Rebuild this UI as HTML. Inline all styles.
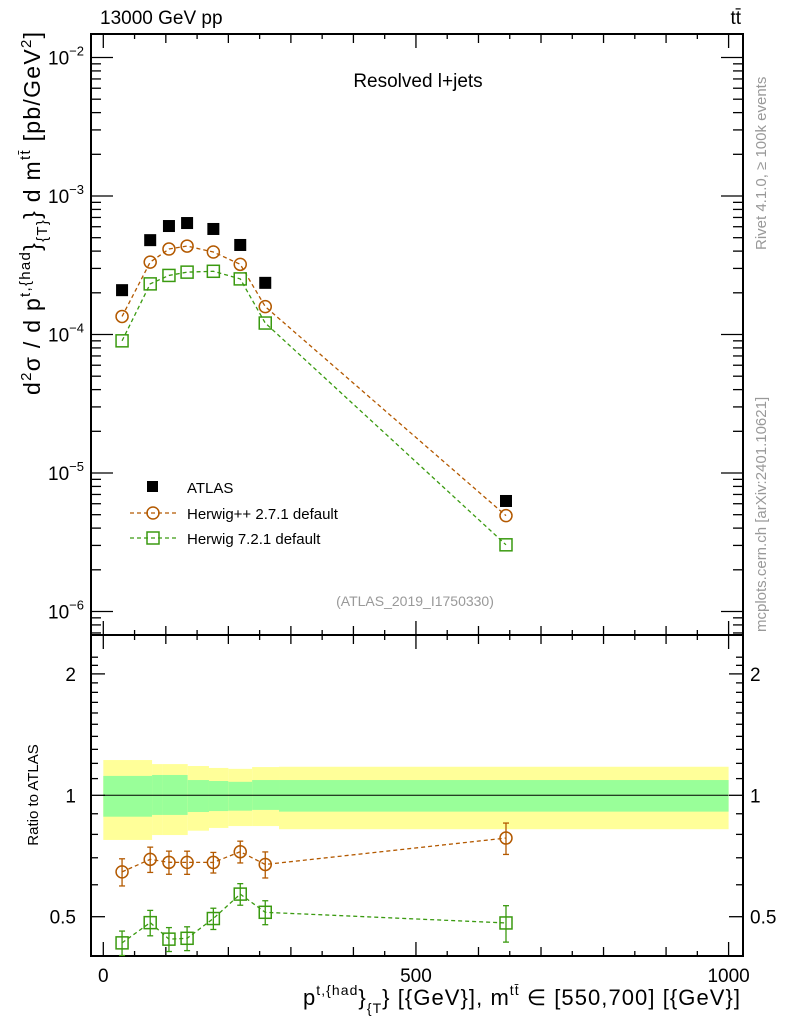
<!DOCTYPE html>
<html><head><meta charset="utf-8"><style>
html,body{margin:0;padding:0;background:#fff;}
svg{display:block;font-family:"Liberation Sans",sans-serif;}
</style></head><body>
<svg id="chart" width="786" height="1024" viewBox="0 0 786 1024">
<g id="bands"></g>
<g id="axes"></g>
<g id="series"></g>
<text x="100" y="24" font-size="19">13000 GeV pp</text>
<text x="741" y="24" font-size="19" text-anchor="end">tt̄</text>
<text x="418" y="87" font-size="19" text-anchor="middle">Resolved l+jets</text>
<text x="415" y="606" font-size="14" fill="#999" text-anchor="middle">(ATLAS_2019_I1750330)</text>
<text transform="translate(766,250) rotate(-90)" font-size="15" fill="#999">Rivet 4.1.0, ≥ 100k events</text>
<text transform="translate(766,632) rotate(-90)" font-size="15" fill="#999">mcplots.cern.ch [arXiv:2401.10621]</text>
<text transform="translate(40,395) rotate(-90)" font-size="23" textLength="363" lengthAdjust="spacing">d<tspan font-size="15" dy="-9">2</tspan><tspan dy="9">σ / d p</tspan><tspan font-size="15" dy="-10">t,{had</tspan><tspan dy="10">}</tspan><tspan font-size="15" dy="7">{T}</tspan><tspan dy="-7">} d m</tspan><tspan font-size="15" dy="-10">tt̄</tspan><tspan dy="10"> [pb/GeV</tspan><tspan font-size="15" dy="-9">2</tspan><tspan dy="9">]</tspan></text>
<text transform="translate(38,795) rotate(-90)" font-size="15" text-anchor="middle">Ratio to ATLAS</text>
<text x="303" y="1005" font-size="22" textLength="437" lengthAdjust="spacing">p<tspan font-size="14" dy="-10">t,{had</tspan><tspan dy="10">}</tspan><tspan font-size="14" dy="8">{T</tspan><tspan dy="-8">} [{GeV}], m</tspan><tspan font-size="14" dy="-10">tt̄</tspan><tspan dy="10"> ∈ [550,700] [{GeV}]</tspan></text>
<g id="legend">
<rect x="147" y="481" width="11" height="11" fill="#000"/>
<text x="187" y="493" font-size="15">ATLAS</text>
<line x1="130" y1="513" x2="176" y2="513" stroke="#b35900" stroke-width="1.3" stroke-dasharray="4,3"/>
<circle cx="153" cy="513" r="6" fill="none" stroke="#b35900" stroke-width="1.5"/>
<text x="187" y="519" font-size="15">Herwig++ 2.7.1 default</text>
<line x1="130" y1="538" x2="176" y2="538" stroke="#3a9a10" stroke-width="1.3" stroke-dasharray="4,3"/>
<rect x="147" y="532" width="12" height="12" fill="none" stroke="#3a9a10" stroke-width="1.5"/>
<text x="187" y="544" font-size="15">Herwig 7.2.1 default</text>
</g>
</svg>
<script>
const xCenters=[30,75,105,134,176,219,259,644];
const binEdges=[0,78,94,135,169,200,238,281,1000];
const atlas=[2.09e-4,4.8e-4,6.07e-4,6.38e-4,5.78e-4,4.43e-4,2.36e-4,6.28e-6];
const herwigpp=[1.35e-4,3.33e-4,4.14e-4,4.35e-4,3.94e-4,3.21e-4,1.59e-4,4.92e-6];
const herwig7=[9.0e-5,2.32e-4,2.67e-4,2.82e-4,2.86e-4,2.52e-4,1.21e-4,3.03e-6];
const yellowUp=[1.223,1.195,1.195,1.182,1.169,1.163,1.175,1.177];
const yellowDn=[0.775,0.797,0.797,0.817,0.830,0.839,0.839,0.824];
const greenUp=[1.117,1.123,1.123,1.091,1.085,1.080,1.091,1.091];
const greenDn=[0.885,0.894,0.894,0.909,0.914,0.916,0.920,0.911];
const ratioErrPP=[0.05,0.05,0.045,0.045,0.04,0.045,0.05,0.07];
const ratioErr7=[0.03,0.035,0.03,0.03,0.03,0.035,0.035,0.05];
const xTickLabels=[0,500,1000];
const mainTickExps=[-2,-3,-4,-5,-6];
const ratioTickLabels=[0.5,1,2];

const NS="http://www.w3.org/2000/svg";
const L=91,R=743,T=34,MB=635,RB=956;
const X=v=>103.3+v*0.6253;
const Y=v=>57.5-(Math.log10(v)+2)*138.5;
const YR=v=>795.3-Math.log10(v)*403.3;
function mk(tag,attrs,parent){const e=document.createElementNS(NS,tag);for(const k in attrs)e.setAttribute(k,attrs[k]);parent.appendChild(e);return e;}
const axes=document.getElementById('axes'),bands=document.getElementById('bands'),series=document.getElementById('series');

for(let i=0;i<yellowUp.length;i++){
  const x1=X(binEdges[i]),x2=X(binEdges[i+1]);
  const y=mk('rect',{x:x1,y:YR(yellowUp[i]),width:x2-x1,height:YR(yellowDn[i])-YR(yellowUp[i]),fill:'#ffff99'},bands);
  
  
  const g=mk('rect',{x:x1,y:YR(greenUp[i]),width:x2-x1,height:YR(greenDn[i])-YR(greenUp[i]),fill:'#99ff99'},bands);
  
  
}
const one=mk('line',{x1:X(0),x2:X(1000),y1:YR(1),y2:YR(1),stroke:'#000','stroke-width':1},bands);



mk('rect',{x:L,y:T,width:R-L,height:MB-T,fill:'none',stroke:'#000','stroke-width':2},axes);
mk('rect',{x:L,y:MB,width:R-L,height:RB-MB,fill:'none',stroke:'#000','stroke-width':2},axes);
for(let v=0;v<=1000;v+=50){
  const len=v%500===0?14:(v%100===0?9:5);
  for(const [yb,dir] of [[MB,-1],[T,1],[RB,-1],[MB,1]]){
    mk('line',{x1:X(v),x2:X(v),y1:yb,y2:yb+dir*len,stroke:'#000','stroke-width':1.3},axes);
  }
}
xTickLabels.forEach(v=>{const t=mk('text',{x:X(v),y:RB+26,'font-size':19,'text-anchor':'middle'},axes);t.textContent=v;
 
 });
for(let e=-7;e<=-2;e++){
  for(let m=1;m<10;m++){
    const y=Y(m*Math.pow(10,e));if(y<T||y>MB)continue;
    const len=m===1?22:10;
    mk('line',{x1:L,x2:L+len,y1:y,y2:y,stroke:'#000','stroke-width':1.3},axes);
    mk('line',{x1:R,x2:R-len,y1:y,y2:y,stroke:'#000','stroke-width':1.3},axes);
  }
}
mainTickExps.forEach(e=>{const t=mk('text',{x:84,y:Y(Math.pow(10,e))+7,'font-size':19,'text-anchor':'end'},axes);
 t.innerHTML='10<tspan font-size="13" dy="-9">'+(e<0?'−'+(-e):e)+'</tspan>';
 
 });
for(let v=0.4;v<=2.3;v+=0.1){
  const y=YR(v);if(y<MB||y>RB)continue;
  const major=Math.abs(v-0.5)<1e-6||Math.abs(v-1)<1e-6||Math.abs(v-2)<1e-6;
  const len=major?14:7;
  mk('line',{x1:L,x2:L+len,y1:y,y2:y,stroke:'#000','stroke-width':1.3},axes);
  mk('line',{x1:R,x2:R-len,y1:y,y2:y,stroke:'#000','stroke-width':1.3},axes);
}
ratioTickLabels.forEach(v=>{
  const a=mk('text',{x:76,y:YR(v)+7,'font-size':19,'text-anchor':'end'},axes);a.textContent=v;
  
  
  const b=mk('text',{x:750,y:YR(v)+7,'font-size':19},axes);b.textContent=v;
  
  
});

function line(vals,fy,color){
  const p=vals.map((v,i)=>X(xCenters[i])+','+fy(v,i)).join(' ');
  return mk('polyline',{points:p,fill:'none',stroke:color,'stroke-width':1.3,'stroke-dasharray':'4,3'},series);
}
function circ(x,y,name){const c=mk('circle',{cx:x,cy:y,r:6,fill:'none',stroke:'#b35900','stroke-width':1.5},series);
 
 }
function sq(x,y,name){const c=mk('rect',{x:x-6,y:y-6,width:12,height:12,fill:'none',stroke:'#3a9a10','stroke-width':1.5},series);
 
 }
line(herwigpp,v=>Y(v),'#b35900');
line(herwig7,v=>Y(v),'#3a9a10');
atlas.forEach((v,i)=>{const r=mk('rect',{x:X(xCenters[i])-6,y:Y(v)-6,width:12,height:12,fill:'#000'},series);
 
 });
herwigpp.forEach((v,i)=>circ(X(xCenters[i]),Y(v),'herwigpp-point'));
herwig7.forEach((v,i)=>sq(X(xCenters[i]),Y(v),'herwig7-point'));

function errbar(x,r,e,color){
  mk('line',{x1:x,x2:x,y1:YR(r+e),y2:YR(r-e),stroke:color,'stroke-width':1.3},series);
  mk('line',{x1:x-3,x2:x+3,y1:YR(r+e),y2:YR(r+e),stroke:color,'stroke-width':1.3},series);
  mk('line',{x1:x-3,x2:x+3,y1:YR(r-e),y2:YR(r-e),stroke:color,'stroke-width':1.3},series);
}
line(herwigpp,(v,i)=>YR(v/atlas[i]),'#b35900');
line(herwig7,(v,i)=>YR(v/atlas[i]),'#3a9a10');
herwigpp.forEach((v,i)=>{const r=v/atlas[i];errbar(X(xCenters[i]),r,ratioErrPP[i],'#b35900');circ(X(xCenters[i]),YR(r),'herwigpp-ratio-point');});
herwig7.forEach((v,i)=>{const r=v/atlas[i];errbar(X(xCenters[i]),r,ratioErr7[i],'#3a9a10');sq(X(xCenters[i]),YR(r),'herwig7-ratio-point');});
</script>
</body></html>
